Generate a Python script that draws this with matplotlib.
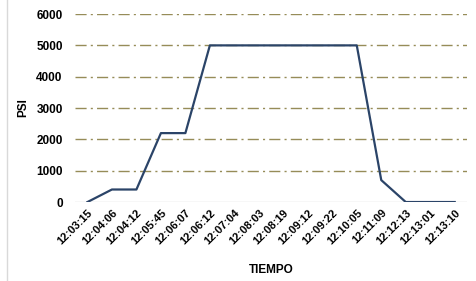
import matplotlib
matplotlib.use('Agg')
import matplotlib.pyplot as plt

tiempos = ['12:03:15', '12:04:06', '12:04:12', '12:05:45', '12:06:07', '12:06:12',
           '12:07:04', '12:08:03', '12:08:19', '12:09:12', '12:09:22', '12:10:05',
           '12:11:09', '12:12:13', '12:13:01', '12:13:10']
psi = [0, 400, 400, 2200, 2200, 5000, 5000, 5000, 5000, 5000, 5000, 5000, 700, 0, 0, 0]

plt.rcParams['font.family'] = ['Liberation Sans', 'DejaVu Sans']

fig = plt.figure(figsize=(4.76, 2.81), dpi=100)
ax = fig.add_axes([0.158, 0.281, 0.823, 0.669])

x = list(range(len(tiempos)))
for v in range(1000, 7000, 1000):
    ax.axhline(v, color='#968C58', lw=1.0, ls=(0, (8, 3, 1.5, 3)), zorder=1)
ax.axhline(0, color='#D9D9D9', lw=1.0, zorder=1)
ax.plot(x, psi, color='#2B4468', lw=1.6, zorder=3)

ax.set_xlim(-0.5, len(tiempos) - 0.5)
ax.set_ylim(0, 6000)
ax.set_yticks(range(0, 7000, 1000))
ax.set_xticks(x)
ax.set_xticklabels(tiempos, rotation=45, ha='right', rotation_mode='anchor')
for lab in ax.get_xticklabels():
    lab.set_fontweight('bold')
    lab.set_fontsize(8)
for lab in ax.get_yticklabels():
    lab.set_fontweight('bold')
    lab.set_fontsize(8.5)
ax.tick_params(length=0)
ax.tick_params(axis='y', pad=9)
ax.tick_params(axis='x', pad=4)
for s in ax.spines.values():
    s.set_visible(False)

ax.set_ylabel('PSI', fontsize=8.5, fontweight='bold', labelpad=5)
ax.set_xlabel('TIEMPO', fontsize=8.5, fontweight='bold', labelpad=13)

# borde izquierdo del área del gráfico
fig.add_artist(plt.Line2D([0.015, 0.015], [0, 1], color='#D9D9D9', lw=1.0))

plt.savefig('out.png', dpi=100)
plt.close()
